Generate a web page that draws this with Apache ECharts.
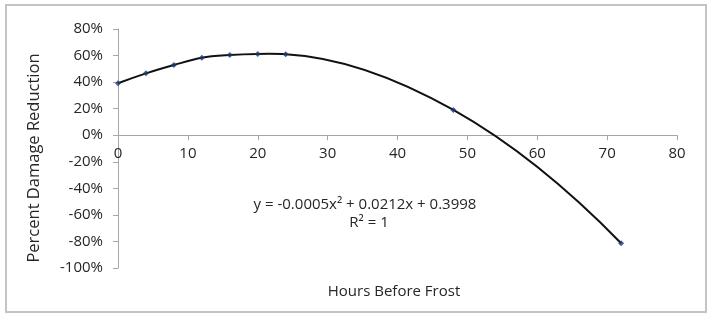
<!DOCTYPE html>
<html>
<head>
<meta charset="utf-8">
<script src="https://cdn.jsdelivr.net/npm/echarts@6/dist/echarts.min.js"></script>
<style>
html,body{margin:0;padding:0;background:#fff;}
#chart{width:716px;height:315px;}
</style>
</head>
<body>
<div id="chart"></div>
<script>
// Data (hours before frost, percent damage reduction)
const hours = [0, 4, 8, 12, 16, 20, 24, 48, 72];
const reduction = [39.1, 46.6, 52.9, 58.4, 60.4, 61.2, 61.0, 19.0, -81.4];
const xTicks = [0, 10, 20, 30, 40, 50, 60, 70, 80];
const yTicks = [-100, -80, -60, -40, -20, 0, 20, 40, 60, 80];
const xTitle = 'Hours Before Frost';
const yTitle = 'Percent Damage Reduction';
const equation = 'y = -0.0005x² + 0.0212x + 0.3998';
const rSquared = 'R² = 1';

const pts = hours.map((h, i) => [h, reduction[i]]);
const FONT = 'Open Sans';
const TXT = '#262626';
const GRID_TOP = 29, GRID_BOTTOM = 47, H = 315;
const plotH = H - GRID_TOP - GRID_BOTTOM;
const yMin = yTicks[0], yMax = yTicks[yTicks.length - 1];
const zeroOffset = -plotH * (0 - yMin) / (yMax - yMin);

// Smooth curve through the data points (cubic Hermite, parabolic tangents)
function tangents(p) {
  const n = p.length, s = [], h = [], m = [];
  for (let i = 0; i < n - 1; i++) {
    h.push(p[i + 1][0] - p[i][0]);
    s.push((p[i + 1][1] - p[i][1]) / h[i]);
  }
  for (let i = 1; i < n - 1; i++) {
    m[i] = (h[i] * s[i - 1] + h[i - 1] * s[i]) / (h[i - 1] + h[i]);
  }
  m[0] = ((2 * h[0] + h[1]) * s[0] - h[0] * s[1]) / (h[0] + h[1]);
  const k = n - 2;
  m[n - 1] = ((2 * h[k] + h[k - 1]) * s[k] - h[k] * s[k - 1]) / (h[k] + h[k - 1]);
  return m;
}

function renderCurve(params, api) {
  if (params.dataIndex !== 0) return null;
  const m = tangents(pts);
  const c = q => api.coord(q);
  let p0 = c(pts[0]);
  let d = 'M' + p0[0] + ' ' + p0[1];
  for (let i = 0; i < pts.length - 1; i++) {
    const a = pts[i], b = pts[i + 1], hh = (b[0] - a[0]) / 3;
    const c1 = c([a[0] + hh, a[1] + m[i] * hh]);
    const c2 = c([b[0] - hh, b[1] - m[i + 1] * hh]);
    const e = c(b);
    d += ' C' + c1[0] + ' ' + c1[1] + ' ' + c2[0] + ' ' + c2[1] + ' ' + e[0] + ' ' + e[1];
  }
  return {type: 'path', shape: {pathData: d}, style: {fill: null, stroke: '#111', lineWidth: 2}};
}

const chart = echarts.init(document.getElementById('chart'), null, {renderer: 'canvas'});
chart.setOption({
  animation: false,
  backgroundColor: '#fff',
  grid: {left: 118, right: 39, top: GRID_TOP, bottom: GRID_BOTTOM, containLabel: false},
  xAxis: {
    type: 'value', position: 'bottom', offset: zeroOffset,
    min: xTicks[0], max: xTicks[xTicks.length - 1], interval: 10,
    axisLine: {onZero: false, lineStyle: {color: '#a6a6a6', width: 1}},
    axisTick: {show: true, inside: false, length: 5, lineStyle: {color: '#a6a6a6'}},
    axisLabel: {color: TXT, fontFamily: FONT, fontSize: 15, margin: 11},
    splitLine: {show: false}
  },
  yAxis: {
    type: 'value',
    min: yMin, max: yMax, interval: 20,
    axisLine: {show: true, onZero: false, lineStyle: {color: '#a6a6a6', width: 1}},
    axisTick: {show: true, inside: false, length: 5, lineStyle: {color: '#a6a6a6'}},
    axisLabel: {color: TXT, fontFamily: FONT, fontSize: 15, margin: 15, formatter: v => v + '%'},
    splitLine: {show: false}
  },
  graphic: [
    {type: 'rect', shape: {x: 6, y: 5, width: 700, height: 307}, style: {fill: 'none', stroke: '#c4c4c4', lineWidth: 2}, silent: true},
    {type: 'text', x: 34, y: 158, rotation: Math.PI / 2, style: {text: yTitle, fill: TXT, font: '16.5px "' + FONT + '"', textAlign: 'center', textVerticalAlign: 'middle'}},
    {type: 'text', x: 394, y: 292, style: {text: xTitle, fill: TXT, font: '15px "' + FONT + '"', textAlign: 'center', textVerticalAlign: 'middle'}},
    {type: 'text', x: 365, y: 205, style: {text: equation, fill: TXT, font: '15px "' + FONT + '"', textAlign: 'center', textVerticalAlign: 'middle'}},
    {type: 'text', x: 369, y: 223, style: {text: rSquared, fill: TXT, font: '15px "' + FONT + '"', textAlign: 'center', textVerticalAlign: 'middle'}}
  ],
  series: [
    {
      name: 'trend', type: 'custom', data: pts, renderItem: renderCurve,
      encode: {x: 0, y: 1}, silent: true, z: 2
    },
    {
      name: 'data', type: 'scatter', data: pts, symbol: 'diamond', symbolSize: 6,
      itemStyle: {color: '#1c3a6e'}, z: 3
    }
  ]
});
</script>
</body>
</html>
